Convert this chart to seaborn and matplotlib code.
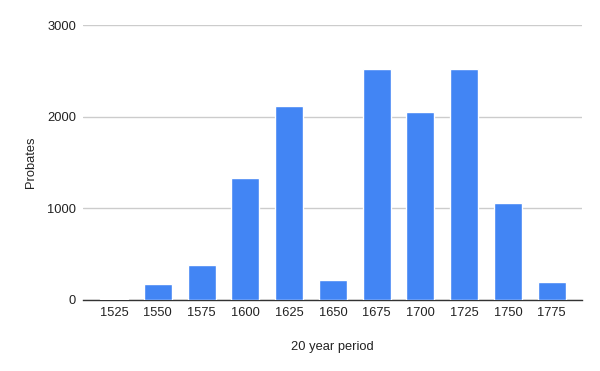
import matplotlib
matplotlib.use("Agg")
import matplotlib.pyplot as plt
import seaborn as sns
import pandas as pd

periods = ["1525", "1550", "1575", "1600", "1625", "1650", "1675", "1700", "1725", "1750", "1775"]
probates = [14, 175, 382, 1331, 2116, 218, 2520, 2051, 2520, 1058, 196]
y_ticks = [0, 1000, 2000, 3000]

df = pd.DataFrame({"period": periods, "probates": probates})

sns.set_theme(style="white")
plt.rcParams["font.family"] = ["Liberation Sans", "DejaVu Sans"]

fig = plt.figure(figsize=(6.0, 3.71), dpi=100)
ax = fig.add_axes([83 / 600, 1 - 300 / 371, (582 - 83) / 600, (300 - 25) / 371])

sns.barplot(data=df, x="period", y="probates", color="#4285F4", saturation=1,
            width=0.64, ax=ax, zorder=3)

ax.set_xlim(-0.71, len(periods) - 1 + 0.69)
ax.set_ylim(0, 3000)
ax.set_yticks(y_ticks)
ax.yaxis.grid(True, color="#cccccc", linewidth=1, zorder=0)
ax.xaxis.grid(False)
for s in ["left", "right", "top"]:
    ax.spines[s].set_visible(False)
ax.spines["bottom"].set_color("#333333")
ax.spines["bottom"].set_linewidth(1.0)
ax.spines["bottom"].set_zorder(2)
ax.tick_params(axis="both", length=0, labelsize=9.3, colors="#222222")
ax.tick_params(axis="x", pad=5)
ax.tick_params(axis="y", pad=5)

ax.set_xlabel("20 year period", fontsize=9.3, color="#222222", labelpad=16)
ax.set_ylabel("Probates", fontsize=9.3, color="#222222", labelpad=7)

fig.savefig("out.png", dpi=100)
